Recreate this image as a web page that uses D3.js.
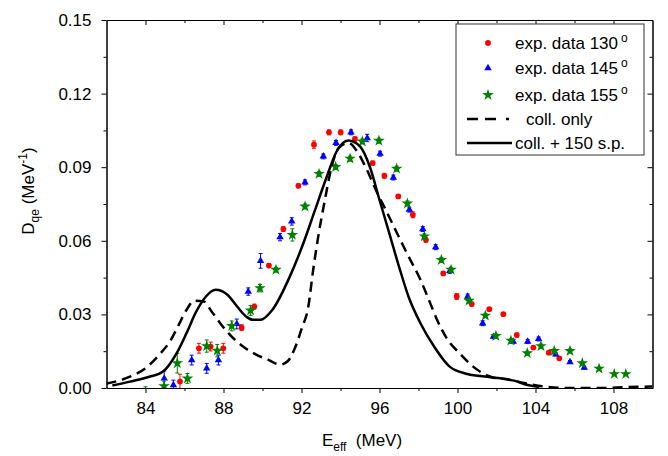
<!DOCTYPE html>
<html>
<head>
<meta charset="utf-8">
<script src="https://cdn.jsdelivr.net/npm/d3@7"></script>
<style>
  body { margin: 0; background: #fff; }
  svg text { font-family: "Liberation Sans", Arial, sans-serif; fill: #000; }
</style>
</head>
<body>
<div id="chart"></div>
<script>
// --- data ---
const redX = [85.77, 86.74, 87.34, 87.99, 88.93, 89.58, 90.33, 91.07, 91.84, 92.64, 93.41, 94.01, 94.74, 95.65, 96.25, 96.96, 97.71, 98.38, 99.27, 99.96, 100.73, 101.63, 102.35, 103.04, 103.89, 104.68, 105.22];
const redY = [0.0026, 0.0162, 0.0169, 0.0162, 0.0246, 0.0332, 0.0499, 0.0648, 0.0824, 0.0992, 0.1042, 0.1042, 0.1015, 0.0917, 0.0865, 0.0781, 0.0706, 0.0604, 0.0467, 0.0373, 0.0342, 0.0321, 0.0301, 0.0216, 0.0165, 0.0144, 0.0121];
const redErr = [0.003, 0.002, 0.0018, 0.002, 0.0012, 0.001, 0.0008, 0.001, 0.0008, 0.0015, 0.001, 0.001, 0.0008, 0.0008, 0.001, 0.0008, 0.0012, 0.001, 0.0008, 0.0012, 0.0008, 0.0006, 0.0006, 0.0008, 0.0006, 0.0006, 0.0006];

const blueX = [84.96, 85.43, 86.37, 87.14, 87.74, 88.68, 89.27, 89.9, 90.9, 91.5, 92.18, 93.12, 93.77, 94.54, 95.37, 96.03, 96.71, 97.53, 98.22, 98.88, 99.6, 100.52, 101.29, 101.84, 102.86, 103.6, 104.16, 105.04, 105.77, 106.5];
const blueY = [0.0039, 0.0012, 0.0114, 0.008, 0.0114, 0.0261, 0.0393, 0.0518, 0.0615, 0.0679, 0.0838, 0.0944, 0.0999, 0.1042, 0.1019, 0.0955, 0.0858, 0.0727, 0.0648, 0.0574, 0.0477, 0.0373, 0.0264, 0.0209, 0.0189, 0.0189, 0.02, 0.0137, 0.0106, 0.0083];
const blueErr = [0.003, 0.002, 0.002, 0.002, 0.002, 0.002, 0.0015, 0.003, 0.0015, 0.0015, 0.001, 0.001, 0.001, 0.001, 0.0015, 0.001, 0.001, 0.001, 0.001, 0.001, 0.001, 0.001, 0.001, 0.0008, 0.0008, 0.0008, 0.0008, 0.0006, 0.0006, 0.0006];

const greenX = [84.0, 84.95, 85.63, 86.15, 87.14, 87.68, 88.42, 89.39, 89.87, 90.69, 91.53, 92.18, 92.9, 93.75, 94.49, 95.12, 95.97, 96.88, 97.43, 98.3, 99.17, 99.67, 100.59, 101.43, 101.97, 102.74, 103.58, 104.28, 104.96, 105.77, 106.4, 107.26, 108.04, 108.63];
const greenY = [-0.002, 0.0008, 0.0101, 0.0039, 0.0171, 0.0152, 0.0253, 0.0316, 0.0407, 0.0482, 0.0624, 0.074, 0.0873, 0.0901, 0.0935, 0.1005, 0.1008, 0.0894, 0.0752, 0.0618, 0.0522, 0.0482, 0.0356, 0.0295, 0.0212, 0.0193, 0.0142, 0.0171, 0.0151, 0.0151, 0.0101, 0.0079, 0.0057, 0.0057];
const greenErr = [0.0025, 0.002, 0.004, 0.002, 0.0025, 0.0025, 0.002, 0.002, 0.0015, 0.001, 0.0025, 0.001, 0.001, 0.001, 0.001, 0.001, 0.001, 0.001, 0.001, 0.001, 0.001, 0.001, 0.001, 0.0008, 0.0008, 0.0008, 0.0008, 0.0008, 0.0008, 0.0008, 0.0006, 0.0006, 0.0006, 0.0006];

// coll. + 150 s.p. (solid)
const solidX = [82.3, 83.2, 84.2, 84.9, 85.6, 86.1, 86.6, 87.1, 87.6, 88.2, 88.7, 89.2, 89.5, 89.9, 90.5, 91.4, 92.1, 92.7, 93.3, 93.8, 94.4, 95.0, 95.5, 96.0, 96.5, 97.0, 97.5, 98.1, 98.8, 99.6, 100.5, 101.7, 102.9, 103.6, 104.2];
const solidY = [0.001, 0.0026, 0.0046, 0.0067, 0.0142, 0.0223, 0.0311, 0.0373, 0.0400, 0.0380, 0.0332, 0.0289, 0.0278, 0.0278, 0.0318, 0.0454, 0.0591, 0.0727, 0.0862, 0.0964, 0.1009, 0.0985, 0.0903, 0.0767, 0.0631, 0.0495, 0.0370, 0.0264, 0.0169, 0.0087, 0.0057, 0.0044, 0.0030, 0.0012, 0.0004];

// coll. only (dashed)
const dashX = [82.0, 83.2, 84.1, 84.7, 85.3, 85.7, 86.1, 86.5, 87.0, 87.4, 87.9, 88.5, 89.0, 89.7, 90.3, 90.9, 91.3, 91.7, 92.0, 92.35, 92.6, 92.86, 93.2, 93.55, 93.9, 94.4, 94.9, 95.35, 95.85, 96.4, 96.9, 97.4, 98.1, 98.6, 98.95, 99.5, 100.1, 100.8, 101.7, 102.7, 103.5, 104.6, 105.9, 107.3, 108.7, 110.0];
const dashY = [0.0018, 0.0046, 0.0087, 0.0135, 0.0196, 0.0257, 0.0318, 0.0356, 0.0352, 0.0311, 0.0257, 0.0203, 0.0169, 0.0135, 0.0115, 0.0095, 0.011, 0.017, 0.024, 0.0332, 0.0482, 0.0618, 0.0767, 0.0903, 0.0978, 0.0999, 0.0958, 0.089, 0.0801, 0.0713, 0.0631, 0.0550, 0.0441, 0.0346, 0.0278, 0.0196, 0.0142, 0.0087, 0.0046, 0.0033, 0.0019, 0.0005, 0.0, 0.0, 0.0004, 0.0006];

const xMajor = [84, 88, 92, 96, 100, 104, 108];
const xMinor = [86, 90, 94, 98, 102, 106];
const yMajor = [0, 0.03, 0.06, 0.09, 0.12, 0.15];
const yMinor = [0.015, 0.045, 0.075, 0.105, 0.135];

const legendLabels = ["exp. data 130", "exp. data 145", "exp. data 155", "coll. only", "coll. + 150 s.p."];

// --- layout ---
const W = 668, H = 456;
const margin = {top: 20, right: 15.5, bottom: 68, left: 106.5};
const iw = W - margin.left - margin.right;
const ih = H - margin.top - margin.bottom;

const svg = d3.select("#chart").append("svg")
    .attr("width", W).attr("height", H);

const g = svg.append("g")
    .attr("transform", `translate(${margin.left},${margin.top})`);

const x = d3.scaleLinear().domain([82, 110]).range([0, iw]);
const y = d3.scaleLinear().domain([0, 0.15]).range([ih, 0]);

svg.append("defs").append("clipPath").attr("id", "plotclip")
    .append("rect").attr("x", 0).attr("y", 0).attr("width", iw).attr("height", ih);

const plot = g.append("g").attr("clip-path", "url(#plotclip)");

const zip = (xs, ys, es) => xs.map((v, i) => ({x: v, y: ys[i], e: es[i]}));

const series = [
    {data: zip(redX, redY, redErr), color: "#ff0000", symbol: d3.symbolCircle, size: 26},
    {data: zip(blueX, blueY, blueErr), color: "#0000ff", symbol: d3.symbolTriangle, size: 24},
    {data: zip(greenX, greenY, greenErr), color: "#008000", symbol: d3.symbolStar, size: 42}
];

series.forEach(s => {
    const grp = plot.append("g");
    // error bars
    grp.selectAll(".eb").data(s.data).join("path")
        .attr("class", "eb")
        .attr("fill", "none")
        .attr("stroke", s.color)
        .attr("stroke-width", 1)
        .attr("d", d => {
            const cx = x(d.x), y1 = y(d.y + d.e), y2 = y(d.y - d.e);
            return `M${cx},${y1}V${y2}M${cx - 2},${y1}H${cx + 2}M${cx - 2},${y2}H${cx + 2}`;
        });
    grp.selectAll(".pt").data(s.data).join("path")
        .attr("class", "pt")
        .attr("fill", s.color)
        .attr("transform", d => `translate(${x(d.x)},${y(d.y)})`)
        .attr("d", d3.symbol().type(s.symbol).size(s.size));
});

const line = d3.line()
    .x(d => x(d[0]))
    .y(d => y(d[1]))
    .curve(d3.curveMonotoneX);

plot.append("path")
    .datum(dashX.map((v, i) => [v, dashY[i]]))
    .attr("fill", "none")
    .attr("stroke", "#000")
    .attr("stroke-width", 2.5)
    .attr("stroke-dasharray", "10,6")
    .attr("d", line);

plot.append("path")
    .datum(solidX.map((v, i) => [v, solidY[i]]))
    .attr("fill", "none")
    .attr("stroke", "#000")
    .attr("stroke-width", 2.5)
    .attr("d", line);

// --- axes ---
function styleAxis(sel) {
    sel.selectAll(".domain").attr("stroke", "#000");
    sel.selectAll(".tick line").attr("stroke", "#000");
    sel.selectAll("text").style("font-size", "17px").attr("fill", "#000");
}

g.append("g").attr("transform", `translate(0,${ih})`)
    .call(d3.axisBottom(x).tickValues(xMajor).tickSize(5).tickPadding(9).tickSizeOuter(0))
    .call(styleAxis);
g.append("g").attr("transform", `translate(0,${ih})`)
    .call(d3.axisBottom(x).tickValues(xMinor).tickSize(3).tickFormat("").tickSizeOuter(0))
    .call(styleAxis);

g.append("g")
    .call(d3.axisLeft(y).tickValues(yMajor).tickFormat(d3.format(".2f")).tickSize(5).tickPadding(10).tickSizeOuter(0))
    .call(styleAxis);
g.append("g")
    .call(d3.axisLeft(y).tickValues(yMinor).tickSize(3).tickFormat("").tickSizeOuter(0))
    .call(styleAxis);

g.append("g")
    .call(d3.axisTop(x).tickValues(xMajor).tickSize(-5).tickFormat("").tickSizeOuter(0))
    .call(styleAxis);
g.append("g")
    .call(d3.axisTop(x).tickValues(xMinor).tickSize(-3).tickFormat("").tickSizeOuter(0))
    .call(styleAxis);

g.append("g").attr("transform", `translate(${iw},0)`)
    .call(d3.axisRight(y).tickValues(yMajor).tickSize(-5).tickFormat("").tickSizeOuter(0))
    .call(styleAxis);
g.append("g").attr("transform", `translate(${iw},0)`)
    .call(d3.axisRight(y).tickValues(yMinor).tickSize(-3).tickFormat("").tickSizeOuter(0))
    .call(styleAxis);

// axis titles
const xt = svg.append("text")
    .attr("x", 362).attr("y", 446)
    .attr("text-anchor", "middle")
    .style("font-size", "17px");
xt.append("tspan").text("E");
xt.append("tspan").attr("dy", 5).style("font-size", "12px").text("eff");
xt.append("tspan").attr("dy", -5).text("\u00a0\u00a0(MeV)");

const yt = svg.append("text")
    .attr("transform", "translate(34,191) rotate(-90)")
    .attr("text-anchor", "middle")
    .style("font-size", "17px");
yt.append("tspan").text("D");
yt.append("tspan").attr("dy", 5).style("font-size", "12px").text("qe");
yt.append("tspan").attr("dy", -5).text(" (MeV");
yt.append("tspan").attr("dy", -7).style("font-size", "12px").text("-1");
yt.append("tspan").attr("dy", 7).text(")");

// --- legend ---
const lg = svg.append("g").attr("transform", "translate(456,24)");
lg.append("rect")
    .attr("x", 0).attr("y", 0).attr("width", 188).attr("height", 131)
    .attr("fill", "#fff").attr("stroke", "#333").attr("stroke-width", 1);

const rowY = [19, 44, 71, 95, 119];

series.forEach((s, i) => {
    lg.append("path")
        .attr("transform", `translate(32,${rowY[i]})`)
        .attr("fill", s.color)
        .attr("d", d3.symbol().type(s.symbol).size(s.size));
    const t = lg.append("text")
        .attr("x", 59).attr("y", rowY[i] + 6)
        .style("font-size", "17px");
    t.append("tspan").text(legendLabels[i]);
    t.append("tspan").attr("dx", 3).attr("dy", -7).style("font-size", "12px").text("o");
});

lg.append("line")
    .attr("x1", 11).attr("x2", 55).attr("y1", rowY[3]).attr("y2", rowY[3])
    .attr("stroke", "#000").attr("stroke-width", 2.5)
    .attr("stroke-dasharray", "11,7,11,10,3,40");
lg.append("text")
    .attr("x", 70).attr("y", rowY[3] + 6)
    .style("font-size", "17px")
    .text(legendLabels[3]);

lg.append("line")
    .attr("x1", 11).attr("x2", 56).attr("y1", rowY[4]).attr("y2", rowY[4])
    .attr("stroke", "#000").attr("stroke-width", 2.5);
lg.append("text")
    .attr("x", 59).attr("y", rowY[4] + 6)
    .style("font-size", "17px")
    .text(legendLabels[4]);
</script>
</body>
</html>
